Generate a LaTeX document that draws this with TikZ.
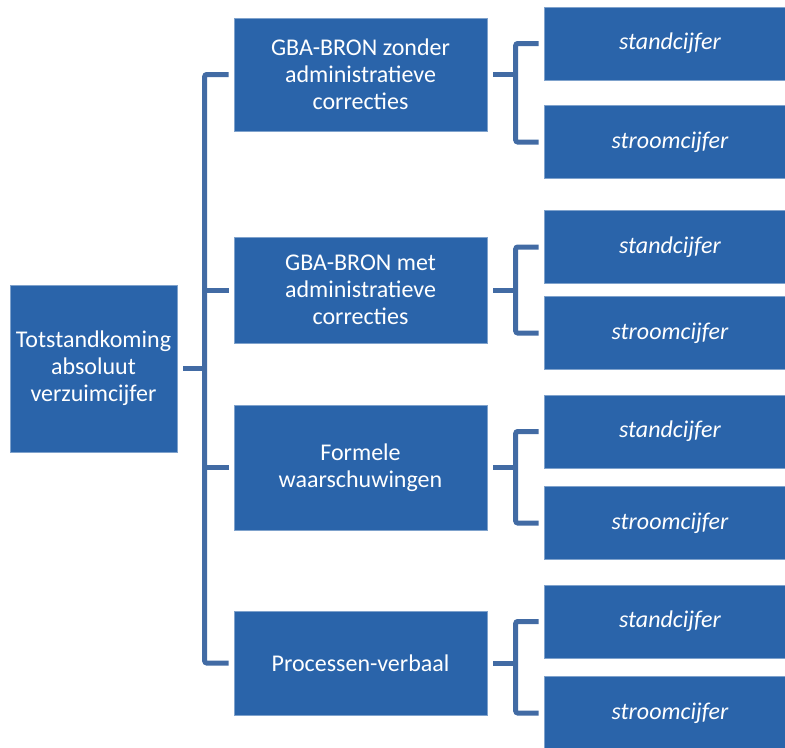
\documentclass[tikz,border=0pt]{standalone}
\usepackage{fontspec}
\setmainfont{Carlito}
\usepackage{tikz}
\definecolor{boxblue}{RGB}{42,100,170}
\definecolor{lineblue}{RGB}{66,107,164}
\tikzset{
  blok/.style={fill=boxblue,draw=boxblue!60!white,line width=0.4pt,text=white,
    align=center,font=\fontsize{18}{20.25}\selectfont,inner sep=0pt},
  hoofd/.style={blok,minimum width=125.25pt,minimum height=125.25pt},
  tussen/.style={blok,minimum width=189.75pt},
  cijfer/.style={blok,minimum width=189pt,minimum height=54.5pt,font=\fontsize{18}{20.25}\selectfont\itshape},
  verbind/.style={draw=lineblue,line width=3.75pt,rounded corners=1.5pt}
}

\begin{document}
\begin{tikzpicture}[x=0.75pt,y=-0.75pt]
    \useasboundingbox (0,0) rectangle (785,747);

    \node[hoofd] (root) at (93.5,368.5) {Totstandkoming\\absoluut\\verzuimcijfer};

    \node[tussen,minimum height=84.75pt] (m1) at (360.5,74.5) {GBA-BRON zonder\\administratieve\\correcties};
    \node[tussen,minimum height=79.5pt] (m2) at (360.5,290) {GBA-BRON met\\administratieve\\correcties};
    \node[tussen,minimum height=93.75pt] (m3) at (360.5,467.5) {Formele\\waarschuwingen};
    \node[tussen,minimum height=78pt] (m4) at (360.5,663) {Processen-verbaal};

    \node[cijfer] (a1) at (670,43.5) {standcijfer};
    \node[cijfer] (b1) at (670,142) {stroomcijfer};
    \node[cijfer] (a2) at (670,247) {standcijfer};
    \node[cijfer] (b2) at (670,333) {stroomcijfer};
    \node[cijfer] (a3) at (670,431.5) {standcijfer};
    \node[cijfer] (b3) at (670,523) {stroomcijfer};
    \node[cijfer] (a4) at (670,621.5) {standcijfer};
    \node[cijfer] (b4) at (670,713) {stroomcijfer};

    % linker haak
    \draw[verbind] ([xshift=4.5pt]root.east) -- ([xshift=-21.75pt]m1.west |- root.east);
    \draw[verbind] ([xshift=-3.75pt]m1.west) -| ([xshift=-21.75pt]m4.west) -- ([xshift=-3.75pt]m4.west);
    \draw[verbind] ([xshift=-21.75pt]m2.west) -- ([xshift=-3.75pt]m2.west);
    \draw[verbind] ([xshift=-21.75pt]m3.west) -- ([xshift=-3.75pt]m3.west);

    % rechter haken
    \foreach \i in {1,...,4} {
      \draw[verbind] ([xshift=4.5pt]m\i.east) -- ([xshift=-21pt]a\i.west |- m\i.east);
      \draw[verbind] ([xshift=-3.75pt]a\i.west) -| ([xshift=-21pt]b\i.west) -- ([xshift=-3.75pt]b\i.west);
    }
\end{tikzpicture}
\end{document}
